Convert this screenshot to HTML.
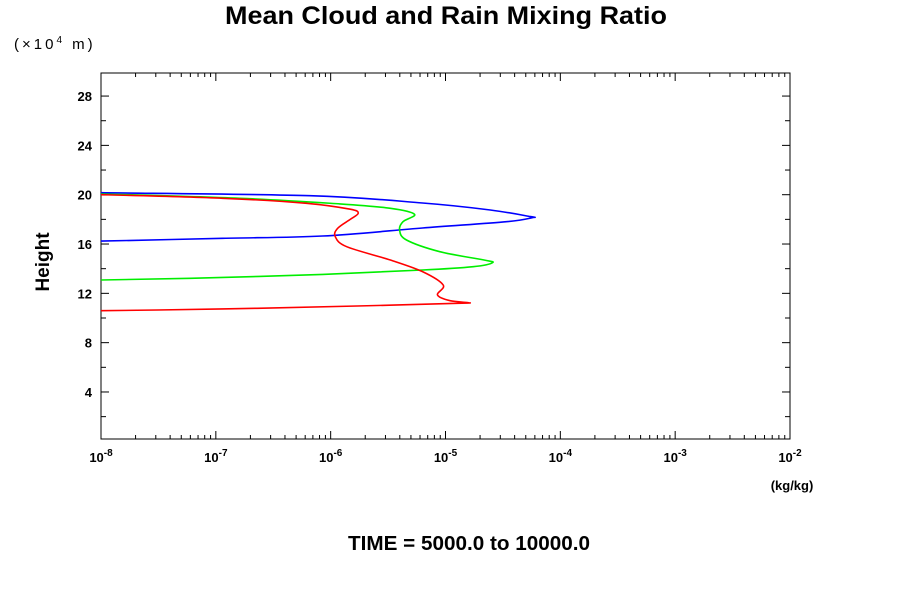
<!DOCTYPE html>
<html><head><meta charset="utf-8"><style>
body{margin:0;background:#fff;}
svg{display:block;font-family:"Liberation Sans",Arial,sans-serif;}
</style></head><body>
<svg id="chart" width="900" height="600">
<text x="446" y="24" text-anchor="middle" font-size="25" font-weight="bold" textLength="442" lengthAdjust="spacingAndGlyphs">Mean Cloud and Rain Mixing Ratio</text>
<text x="14" y="49" font-size="15" letter-spacing="3">(×10<tspan font-size="10" dy="-6">4</tspan><tspan dy="6"> m)</tspan></text>
<text transform="translate(49,262) rotate(-90)" text-anchor="middle" font-size="19" font-weight="bold">Height</text>
<text x="792" y="490" text-anchor="middle" font-size="13" font-weight="bold">(kg/kg)</text>
<text x="469" y="550" text-anchor="middle" font-size="20" font-weight="bold" textLength="242" lengthAdjust="spacingAndGlyphs">TIME = 5000.0 to 10000.0</text>
<defs><clipPath id="pc"><rect x="101" y="73" width="689" height="366"/></clipPath></defs>
<g id="axes"></g>
<g id="series" clip-path="url(#pc)"></g>
</svg>
<script>
const yTicks=[4,8,12,16,20,24,28];
const xDecades=[-8,-7,-6,-5,-4,-3,-2];
// log10 of mixing ratio (kg/kg), and heights (x10^4 m axis units)
const blueLogQ=[-8.2,-8,-6.18,-5.20,-4.61,-4.26,-4.25,-4.47,-5.20,-6.07,-6.94,-8,-8.2];
const blueH=[20.18,20.16,19.92,19.33,18.76,18.22,18.13,17.81,17.30,16.65,16.46,16.24,16.22];
const greenLogQ=[-8.2,-8,-6.79,-5.92,-5.48,-5.27,-5.37,-5.40,-5.34,-5.05,-4.67,-4.59,-4.76,-5.20,-6.07,-7.22,-8,-8.2];
const greenH=[20.08,20.06,19.71,19.25,18.90,18.41,17.81,17.14,16.33,15.38,14.71,14.49,14.16,13.89,13.54,13.22,13.08,13.06];
const redLogQ=[-8.2,-8,-6.94,-6.21,-5.83,-5.76,-5.83,-5.94,-5.96,-5.86,-5.48,-5.20,-5.02,-5.07,-4.96,-4.80,-4.90,-5.77,-6.64,-7.51,-8,-8.2];
const redH=[20.02,20.0,19.71,19.30,18.82,18.49,18.0,17.27,16.59,15.78,14.70,13.76,12.68,11.87,11.40,11.24,11.19,10.97,10.79,10.65,10.59,10.58];

const L=101,R=790,T=73,B=439;
const xs=lg=>L+(lg+8)*(R-L)/6;
const ys=h=>441.3-h*12.33;
const NS='http://www.w3.org/2000/svg';
function mk(tag,attrs,parent){const e=document.createElementNS(NS,tag);for(const k in attrs)e.setAttribute(k,attrs[k]);parent.appendChild(e);return e;}
const ax=document.getElementById('axes');
const frame=mk('rect',{x:L,y:T,width:R-L,height:B-T,fill:'none',stroke:'#000','stroke-width':1},ax);


for(let v=2;v<=30;v+=2){
  const y=ys(v); if(y<T||y>B)continue;
  const len=(v%4===0)?8:5;
  const t1=mk('line',{x1:L,x2:L+len,y1:y,y2:y,stroke:'#000'},ax);
  
  
  const t2=mk('line',{x1:R,x2:R-len,y1:y,y2:y,stroke:'#000'},ax);
  
  
}
yTicks.forEach(v=>{
  const t=mk('text',{x:L-9,y:ys(v)+5,'text-anchor':'end','font-size':13,'font-weight':'bold'},ax);
  t.textContent=v;
  
  
});
xDecades.forEach((d,i)=>{
  const x=xs(d);
  [[B,B-8],[T,T+8]].forEach(p=>{const l=mk('line',{x1:x,x2:x,y1:p[0],y2:p[1],stroke:'#000'},ax);
    
    });
  if(i<xDecades.length-1){for(let m=2;m<=9;m++){const xm=xs(d+Math.log10(m));
    [[B,B-4],[T,T+4]].forEach(p=>{const l=mk('line',{x1:xm,x2:xm,y1:p[0],y2:p[1],stroke:'#000'},ax);
      
      });}}
  const t=mk('text',{x:x,y:462,'text-anchor':'middle','font-size':13,'font-weight':'bold'},ax);
  
  
  t.appendChild(document.createTextNode('10'));
  const s=mk('tspan',{dy:-6,'font-size':10},t);s.textContent=String(d);
});
function smoothPath(P){
  let d='M'+P[0][0].toFixed(1)+','+P[0][1].toFixed(1);
  for(let i=0;i<P.length-1;i++){
    const p0=P[Math.max(i-1,0)],p1=P[i],p2=P[i+1],p3=P[Math.min(i+2,P.length-1)];
    const c1=[p1[0]+(p2[0]-p0[0])/6,p1[1]+(p2[1]-p0[1])/6];
    const c2=[p2[0]-(p3[0]-p1[0])/6,p2[1]-(p3[1]-p1[1])/6];
    d+=' C'+c1.map(v=>v.toFixed(1)).join(',')+' '+c2.map(v=>v.toFixed(1)).join(',')+' '+p2.map(v=>v.toFixed(1)).join(',');
  }
  return d;
}
const sg=document.getElementById('series');
[[blueLogQ,blueH,'#0000ff','blue-series'],[greenLogQ,greenH,'#00ee00','green-series'],[redLogQ,redH,'#ff0000','red-series']].forEach(s=>{
  const P=s[0].map((q,i)=>[xs(q),ys(s[1][i])]);
  const p=mk('path',{d:smoothPath(P),fill:'none',stroke:s[2],'stroke-width':1.6,'stroke-linejoin':'round'},sg);
  
  
});
</script>
</body></html>
